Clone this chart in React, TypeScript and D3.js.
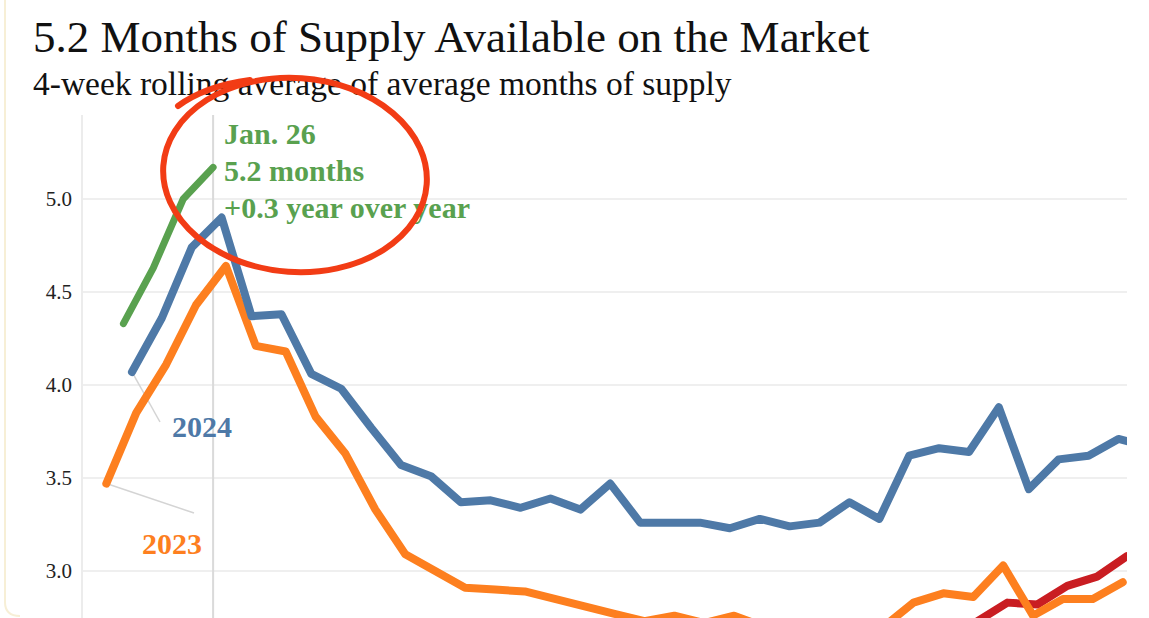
import React from "react";
import * as d3 from "d3";

// ---- data ----
const title = "5.2 Months of Supply Available on the Market";
const subtitle = "4-week rolling average of average months of supply";
const yTicks = [3.0, 3.5, 4.0, 4.5, 5.0];

// start day-of-year of each weekly series
const start2022 = 2;
const start2023 = 1;
const start2024 = 7;
const start2025 = 5;

const values2025 = [4.33, 4.63, 5.0, 5.17];
const values2024 = [
  4.07, 4.36, 4.74, 4.9, 4.37, 4.38, 4.06, 3.98, 3.77, 3.57, 3.51, 3.37, 3.38,
  3.34, 3.39, 3.33, 3.47, 3.26, 3.26, 3.26, 3.23, 3.28, 3.24, 3.26, 3.37, 3.28,
  3.62, 3.66, 3.64, 3.88, 3.44, 3.6, 3.62, 3.71, 3.67,
];
const values2023 = [
  3.47, 3.85, 4.11, 4.43, 4.64, 4.21, 4.18, 3.83, 3.63, 3.33, 3.09, 3.0, 2.91,
  2.9, 2.89, 2.85, 2.81, 2.77, 2.73, 2.76, 2.72, 2.76, 2.7, 2.67, 2.65, 2.66,
  2.7, 2.83, 2.88, 2.86, 3.03, 2.76, 2.85, 2.85, 2.94,
];
// 2022 only visible at the end of the window (weeks 28..34)
const firstWeek2022 = 28;
const values2022 = [2.6, 2.73, 2.83, 2.82, 2.92, 2.97, 3.08];

const colors = {
  y2022: "#c91d22",
  y2023: "#fd7f1f",
  y2024: "#4e79a7",
  y2025: "#59a14f",
};

type Pt = { day: number; v: number };
const toPts = (startDay: number, vals: number[], offsetWeeks = 0): Pt[] =>
  vals.map((v, i) => ({ day: startDay + 7 * (i + offsetWeeks), v }));

export default function App() {
  const W = 1149;
  const H = 618;
  const left = 82;
  const right = 1127;
  const top = 115;

  const x = d3.scaleLinear().domain([-4.7, 240]).range([left, right]);
  const y = d3.scaleLinear().domain([3, 5]).range([571, 199]);

  const line = d3
    .line<Pt>()
    .x((d) => x(d.day))
    .y((d) => y(d.v));

  const s2022 = toPts(start2022, values2022, firstWeek2022);
  const s2023 = toPts(start2023, values2023);
  const s2024 = toPts(start2024, values2024);
  const s2025 = toPts(start2025, values2025);

  const last2025 = s2025[s2025.length - 1];
  const annX = x(last2025.day);

  const serif = "'Liberation Serif', 'Times New Roman', serif";

  return (
    <svg
      width={W}
      height={H}
      style={{ position: "absolute", left: 0, top: 0, background: "#fff" }}
      fontFamily={serif}
    >
      <defs>
        <clipPath id="plot">
          <rect x={left} y={top} width={right - left} height={H - top + 20} />
        </clipPath>
      </defs>
      <rect x={0} y={0} width={W} height={H} fill="#fff" />
      {/* faint frame */}
      <path
        d={`M5,0 L5,${H - 16} Q5,${H - 2} 20,${H - 2}`}
        fill="none"
        stroke="#f7efd6"
        strokeWidth={2}
      />

      <text x={33} y={52} fontSize={45} fill="#111">
        {title}
      </text>
      <text x={33} y={95} fontSize={33.5} fill="#111">
        {subtitle}
      </text>

      {/* gridlines */}
      {yTicks.map((t) => (
        <g key={t}>
          <line
            x1={left}
            x2={right}
            y1={y(t)}
            y2={y(t)}
            stroke="#efefef"
            strokeWidth={2}
          />
          <text
            x={72}
            y={y(t) + 7}
            fontSize={21}
            textAnchor="end"
            fill="#222"
          >
            {t.toFixed(1)}
          </text>
        </g>
      ))}
      <line x1={left} x2={left} y1={top} y2={H} stroke="#ececec" strokeWidth={2} />
      <line x1={annX} x2={annX} y1={top} y2={H} stroke="#dadada" strokeWidth={2} />

      {/* connector lines for year labels */}
      <line
        x1={x(s2024[0].day)}
        y1={y(s2024[0].v)}
        x2={160}
        y2={422}
        stroke="#d4d4d4"
        strokeWidth={1.5}
      />
      <line
        x1={x(s2023[0].day)}
        y1={y(s2023[0].v)}
        x2={194}
        y2={513}
        stroke="#d4d4d4"
        strokeWidth={1.5}
      />

      <g clipPath="url(#plot)" fill="none" strokeLinejoin="round" strokeLinecap="round">
        <path d={line(s2022) || ""} stroke={colors.y2022} strokeWidth={8} />
        <path d={line(s2023) || ""} stroke={colors.y2023} strokeWidth={8} />
        <path d={line(s2024) || ""} stroke={colors.y2024} strokeWidth={8} />
        <path d={line(s2025) || ""} stroke={colors.y2025} strokeWidth={7} />
      </g>

      <text x={172} y={437} fontSize={30} fontWeight="bold" fill={colors.y2024}>
        2024
      </text>
      <text x={142} y={554} fontSize={30} fontWeight="bold" fill={colors.y2023}>
        2023
      </text>

      <g fontSize={30} fontWeight="bold" fill={colors.y2025}>
        <text x={annX + 11} y={144}>
          Jan. 26
        </text>
        <text x={annX + 11} y={181}>
          5.2 months
        </text>
        <text x={annX + 11} y={218}>
          +0.3 year over year
        </text>
      </g>

      {/* hand-drawn red circle */}
      <g fill="none" stroke="#f23c15" strokeWidth={6} strokeLinecap="round">
        <ellipse cx={295} cy={175} rx={132} ry={97} transform="rotate(4 295 175)" />
        <path d="M178,106 Q205,86 250,80" />
      </g>
    </svg>
  );
}
